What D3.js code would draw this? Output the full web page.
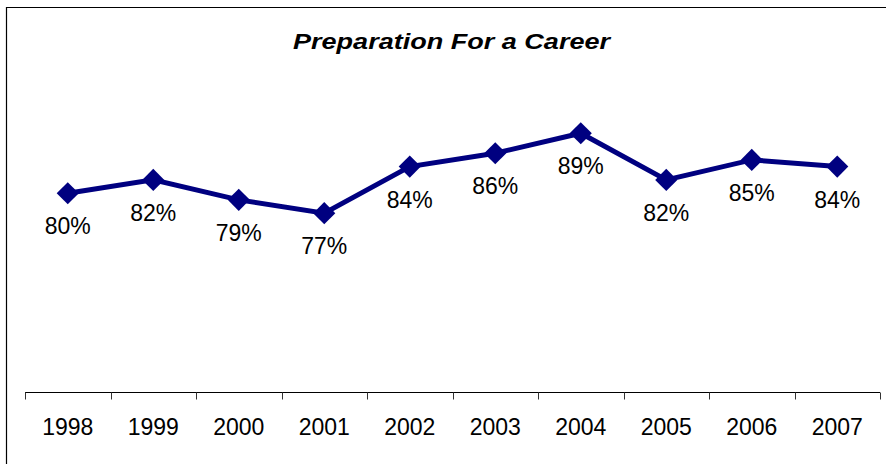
<!DOCTYPE html>
<html>
<head>
<meta charset="utf-8">
<script src="https://cdn.jsdelivr.net/npm/d3@7"></script>
<style>
  html, body { margin: 0; padding: 0; background: #fff; }
  svg { display: block; }
  text { font-family: "Liberation Sans", Arial, sans-serif; }
</style>
</head>
<body>
<svg id="chart" width="886" height="464"></svg>
<script>
const title = "Preparation For a Career";
const categories = ["1998", "1999", "2000", "2001", "2002", "2003", "2004", "2005", "2006", "2007"];
const values = [80, 82, 79, 77, 84, 86, 89, 82, 85, 84];
const valueLabels = ["80%", "82%", "79%", "77%", "84%", "86%", "89%", "82%", "85%", "84%"];
const yDomain = [50, 100];

const svg = d3.select("#chart");
const W = 886, H = 464;
const color = "#000080";

// chart border (top & left visible, cropped at right/bottom)
svg.append("path")
  .attr("d", `M6.5,${H} L6.5,7.5 L${W},7.5`)
  .attr("fill", "none").attr("stroke", "#000").attr("stroke-width", 1.2);

// title
svg.append("text")
  .attr("x", 451.5).attr("y", 48.5)
  .attr("text-anchor", "middle")
  .attr("font-size", 22.5)
  .attr("font-weight", "bold")
  .attr("font-style", "italic")
  .attr("textLength", 317)
  .attr("lengthAdjust", "spacingAndGlyphs")
  .text(title);

const x = d3.scaleBand().domain(categories).range([25, 880]).padding(0);
const y = d3.scaleLinear().domain(yDomain).range([393, 60]);
const axisY = y(yDomain[0]);

// axis
const gAxis = svg.append("g").attr("transform", `translate(0,${axisY - 0.5})`);
gAxis.call(d3.axisBottom(x).tickSize(0).tickPadding(0))
  .call(g => g.select(".domain").remove())
  .call(g => g.selectAll("text")
    .attr("font-size", 23)
    .attr("fill", "#000")
    .attr("font-family", "'Liberation Sans', Arial, sans-serif")
    .attr("dy", null)
    .attr("y", 42.5));
gAxis.append("line")
  .attr("x1", x.range()[0]).attr("x2", x.range()[1])
  .attr("y1", 0).attr("y2", 0)
  .attr("stroke", "#000").attr("stroke-width", 1);
const boundaries = categories.map(c => x(c)).concat([x.range()[1]]);
gAxis.selectAll("line.tickmark").data(boundaries).join("line")
  .attr("class", "tickmark")
  .attr("x1", d => Math.round(d) + 0.5).attr("x2", d => Math.round(d) + 0.5)
  .attr("y1", 0).attr("y2", 7)
  .attr("stroke", "#333").attr("stroke-width", 1);

const cx = c => x(c) + x.bandwidth() / 2;

// line
const line = d3.line().x((d, i) => cx(categories[i])).y(d => y(d));
svg.append("path")
  .datum(values)
  .attr("d", line)
  .attr("fill", "none")
  .attr("stroke", color)
  .attr("stroke-width", 5)
  .attr("stroke-linejoin", "miter");

// markers
const sym = d3.symbol().type(d3.symbolSquare).size(245);
svg.selectAll("path.marker").data(values).join("path")
  .attr("class", "marker")
  .attr("d", sym)
  .attr("transform", (d, i) => `translate(${cx(categories[i])},${y(d)}) rotate(45)`)
  .attr("fill", color);

// data labels
svg.selectAll("text.dlabel").data(values).join("text")
  .attr("class", "dlabel")
  .attr("x", (d, i) => cx(categories[i]))
  .attr("y", d => y(d) + 41)
  .attr("text-anchor", "middle")
  .attr("font-size", 23)
  .attr("fill", "#000")
  .text((d, i) => valueLabels[i]);
</script>
</body>
</html>
